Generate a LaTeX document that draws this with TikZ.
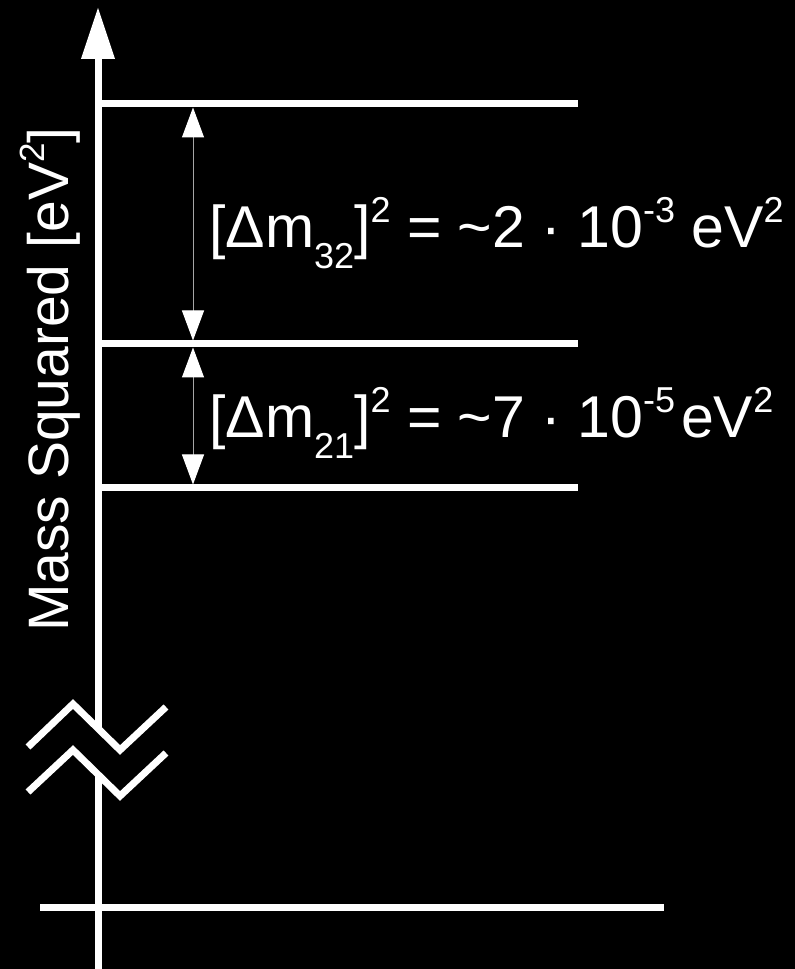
\documentclass[tikz,border=0pt]{standalone}
\usepackage{fontspec}
\setmainfont{Liberation Sans}
\usetikzlibrary{arrows.meta}
\newcommand\supz[1]{\raisebox{25pt}{\fontsize{36}{36}\selectfont #1}}
\newcommand\subz[1]{\raisebox{-21pt}{\fontsize{36}{36}\selectfont #1}}
\begin{document}
\begin{tikzpicture}[x=1pt,y=1pt,
  level/.style={white,line width=7pt},
  brk/.style={white,line width=7pt,line join=miter},
  gap/.style={gray!70,line width=1pt,{Triangle[width=22pt,length=30pt,color=white]}-{Triangle[width=22pt,length=30pt,color=white]}},
  lbl/.style={white,inner sep=0pt,font=\fontsize{59}{59}\selectfont}]
\fill[black] (0,0) rectangle (795,969);
\useasboundingbox (0,0) rectangle (795,969);
% axis
\coordinate (axtop) at (98,912);
\coordinate (axbrkU) at (98,240.5);
\coordinate (axbrkL) at (98,194.5);
\coordinate (axbot) at (98,0);
\draw[level] (axbrkU) -- (axtop);
\draw[level] (axbot) -- (axbrkL);
\fill[white] (81,910) -- (98,961) -- (115,910) -- cycle;
% levels
\coordinate (l3a) at (98,865);   \coordinate (l3b) at (578,865);
\coordinate (l2a) at (98,625);   \coordinate (l2b) at (578,625);
\coordinate (l1a) at (98,481);   \coordinate (l1b) at (578,481);
\coordinate (l0a) at (40,61.5);  \coordinate (l0b) at (664,61.5);
\draw[level] (l3a) -- (l3b);
\draw[level] (l2a) -- (l2b);
\draw[level] (l1a) -- (l1b);
\draw[level] (l0a) -- (l0b);
% break marks
\draw[brk] (28,222) -- (73,265) -- (120,219) -- (166,262);
\draw[brk] (28,177) -- (73,219) -- (120,173) -- (166,216);
% gap arrows
\coordinate (g1t) at (193,861.5); \coordinate (g1b) at (193,628.5);
\coordinate (g2t) at (193,621.5); \coordinate (g2b) at (193,484.5);
\draw[gap] (g1t) -- (g1b);
\draw[gap] (g2t) -- (g2b);
% labels
\node[lbl,anchor=base west] (t32) at (209,721)
  {[Δm\subz{32}]\supz{2} = \textasciitilde2 · 10\supz{-3} eV\supz{2}};
\node[lbl,anchor=base west] (t21) at (209,531)
  {[Δm\subz{21}]\supz{2} = \textasciitilde7 · 10\supz{-5}\hspace{6pt}eV\supz{2}};
\node[white,inner sep=0pt,font=\fontsize{57}{57}\selectfont,rotate=90,anchor=base west] (ylab) at (68,337)
  {Mass Squared [eV\raisebox{24pt}{\fontsize{35}{35}\selectfont 2}]};
\end{tikzpicture}
\end{document}
